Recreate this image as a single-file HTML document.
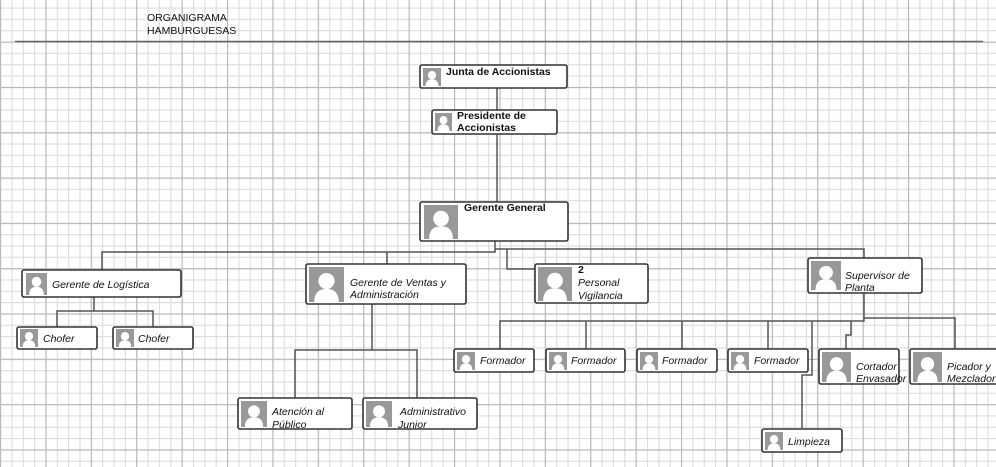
<!DOCTYPE html>
<html><head><meta charset="utf-8"><style>
html,body{margin:0;padding:0;background:#fff}
svg{display:block}
text{font-family:"Liberation Sans",sans-serif;font-size:10.5px;fill:#111}
.b{font-weight:bold}
.i{font-style:italic}
.n{fill:#fff;stroke:#333;stroke-width:1.6}
.c{fill:none;stroke:#555;stroke-width:1.5}
</style></head><body>
<svg width="996" height="467" viewBox="0 0 996 467" xmlns="http://www.w3.org/2000/svg">
<defs>
<pattern id="mn" width="11.35" height="11.33" patternUnits="userSpaceOnUse" x="0" y="7.5">
<path d="M0 0.5H11.35M0.5 0V11.33" stroke="#dcdcdc" stroke-width="1.2" fill="none"/>
</pattern>
<pattern id="mj" width="45.4" height="45.3" patternUnits="userSpaceOnUse" x="0" y="41.7">
<path d="M0 0.5H45.4M0.5 0V45.3" stroke="#b8b8b8" stroke-width="1.2" fill="none"/>
</pattern>
<symbol id="p" viewBox="0 0 20 20" preserveAspectRatio="none">
<rect width="20" height="20" fill="#999"/>
<circle cx="10" cy="8" r="4.6" fill="#fff"/>
<path d="M3 20Q3 12.5 10 12.5Q17 12.5 17 20Z" fill="#fff"/>
</symbol>
</defs>
<rect width="996" height="467" fill="url(#mn)"/>
<rect width="996" height="467" fill="url(#mj)"/>
<text x="147" y="21">ORGANIGRAMA</text>
<text x="147" y="34">HAMBURGUESAS</text>
<line x1="15" y1="41.5" x2="983" y2="41.5" stroke="#666" stroke-width="1.6"/>

<path class="c" d="M497 88V202"/>
<path class="c" d="M495 241V252H102V270"/>
<path class="c" d="M387 252V264"/>
<path class="c" d="M495 249H864V258"/>
<path class="c" d="M507 249V269H535"/>
<path class="c" d="M94 297V311H57V327M94 311H153V327"/>
<path class="c" d="M372 304V350H295V398M372 350H417V398"/>
<path class="c" d="M864 293V321H500V349M586 321V349M682 321V349M768 321V349"/>
<path class="c" d="M864 318H955V349"/>
<path class="c" d="M851 321V335H846V349"/>
<path class="c" d="M812 321V375H802V428"/>

<rect class="n" x="420" y="65" width="147" height="23" rx="2"/>
<use href="#p" x="423" y="68" width="18" height="18"/>
<text class="b" x="446" y="75">Junta de Accionistas</text>

<rect class="n" x="432" y="110" width="125" height="24" rx="2"/>
<use href="#p" x="435" y="113" width="17" height="18"/>
<text class="b" x="457" y="119">Presidente de</text>
<text class="b" x="457" y="131">Accionistas</text>

<rect class="n" x="420" y="202" width="148" height="39" rx="2"/>
<use href="#p" x="424" y="205" width="34" height="34"/>
<text class="b" x="464" y="211">Gerente General</text>

<rect class="n" x="22" y="270" width="159" height="27" rx="2"/>
<use href="#p" x="26" y="273" width="21" height="22"/>
<text class="i" x="52" y="288">Gerente de Logística</text>

<rect class="n" x="17" y="327" width="80" height="22" rx="2"/>
<use href="#p" x="20" y="329" width="18" height="18"/>
<text class="i" x="43" y="342">Chofer</text>
<rect class="n" x="113" y="327" width="80" height="22" rx="2"/>
<use href="#p" x="116" y="329" width="18" height="18"/>
<text class="i" x="138" y="342">Chofer</text>

<rect class="n" x="306" y="264" width="160" height="40" rx="2"/>
<use href="#p" x="309" y="267" width="35" height="35"/>
<text class="i" x="350" y="286">Gerente de Ventas y</text>
<text class="i" x="350" y="298">Administración</text>

<rect class="n" x="238" y="398" width="114" height="31" rx="2"/>
<use href="#p" x="241" y="401" width="26" height="26"/>
<text class="i" x="272" y="415">Atención al</text>
<text class="i" x="272" y="428">Público</text>
<rect class="n" x="363" y="398" width="114" height="31" rx="2"/>
<use href="#p" x="366" y="401" width="26" height="26"/>
<text class="i" x="400" y="415">Administrativo</text>
<text class="i" x="398" y="428">Junior</text>

<rect class="n" x="535" y="264" width="113" height="39" rx="2"/>
<use href="#p" x="538" y="267" width="34" height="34"/>
<text class="b" x="578" y="273">2</text>
<text class="i" x="578" y="286">Personal</text>
<text class="i" x="578" y="299">Vigilancia</text>

<rect class="n" x="808" y="258" width="114" height="35" rx="2"/>
<use href="#p" x="811" y="261" width="30" height="29"/>
<text class="i" x="845" y="279">Supervisor de</text>
<text class="i" x="845" y="291">Planta</text>

<rect class="n" x="454" y="349" width="80" height="23" rx="2"/>
<use href="#p" x="457" y="352" width="18" height="18"/>
<text class="i" x="480" y="364">Formador</text>
<rect class="n" x="546" y="349" width="79" height="23" rx="2"/>
<use href="#p" x="549" y="352" width="18" height="18"/>
<text class="i" x="571" y="364">Formador</text>
<rect class="n" x="637" y="349" width="80" height="23" rx="2"/>
<use href="#p" x="640" y="352" width="18" height="18"/>
<text class="i" x="662" y="364">Formador</text>
<rect class="n" x="728" y="349" width="80" height="23" rx="2"/>
<use href="#p" x="731" y="352" width="18" height="18"/>
<text class="i" x="754" y="364">Formador</text>

<rect class="n" x="819" y="349" width="80" height="35" rx="2"/>
<use href="#p" x="822" y="352" width="29" height="30"/>
<text class="i" x="856" y="370">Cortador</text>
<text class="i" x="856" y="382">Envasador</text>
<rect class="n" x="910" y="349" width="90" height="35" rx="2"/>
<use href="#p" x="913" y="352" width="29" height="30"/>
<text class="i" x="947" y="370">Picador y</text>
<text class="i" x="947" y="382">Mezclador</text>

<rect class="n" x="762" y="429" width="80" height="23" rx="2"/>
<use href="#p" x="765" y="432" width="18" height="18"/>
<text class="i" x="788" y="445">Limpieza</text>
</svg>
</body></html>
